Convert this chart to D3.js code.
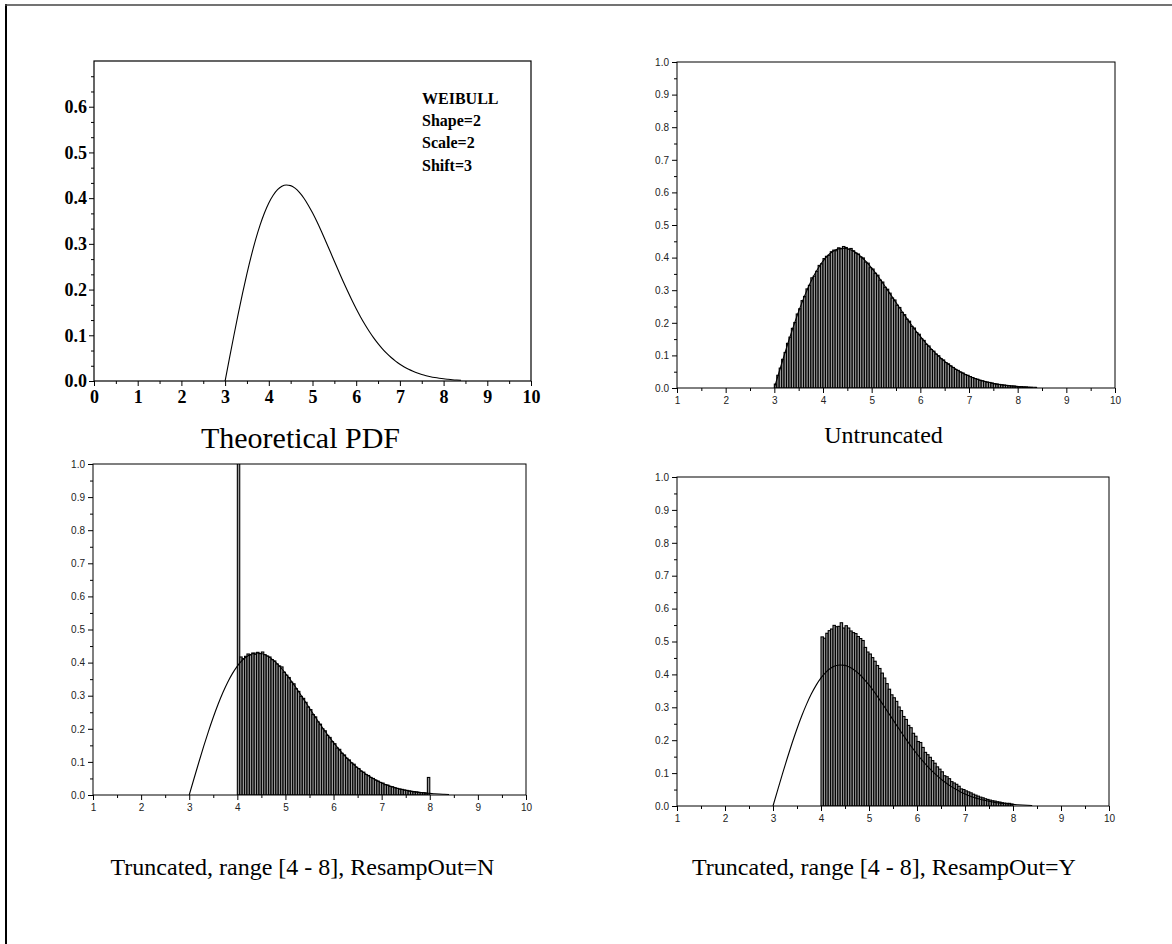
<!DOCTYPE html>
<html><head><meta charset="utf-8">
<script src="https://cdn.jsdelivr.net/npm/d3@7"></script>
<style>
body{margin:0;background:#fff;}
svg{display:block;}
</style></head>
<body>
<svg id="c" width="1172" height="944"></svg>
<script>
// ---------- data ----------
const binWidth = 0.05;
// theoretical Weibull pdf curve (shape=2, scale=2, shift=3), x = 3.0 .. 8.4 step 0.1
const curveX = [3.0,3.1,3.2,3.3,3.4,3.5,3.6,3.7,3.8,3.9,4.0,4.1,4.2,4.3,4.4,4.5,4.6,4.7,4.8,4.9,5.0,5.1,5.2,5.3,5.4,5.5,5.6,5.7,5.8,5.9,6.0,6.1,6.2,6.3,6.4,6.5,6.6,6.7,6.8,6.9,7.0,7.1,7.2,7.3,7.4,7.5,7.6,7.7,7.8,7.9,8.0,8.1,8.2,8.3,8.4];
const curveY = [0,.0499,.0990,.1467,.1922,.2349,.2742,.3097,.3409,.3675,.3894,.4064,.4186,.4260,.4288,.4274,.4218,.4126,.4004,.3852,.3679,.3487,.3280,.3063,.2843,.2620,.2399,.2181,.1972,.1771,.1581,.1402,.1237,.1084,.0944,.0818,.0705,.0604,.0514,.0435,.0366,.0307,.0255,.0212,.0174,.0142,.0116,.0094,.0076,.0061,.0048,.0038,.0029,.0022,.0017];

// Untruncated histogram: bins start at 3.00, width 0.05
const untruncStart = 3.0;
const untruncVals = [0.012,0.039,0.061,0.088,0.109,0.137,0.156,0.183,0.201,0.227,0.243,0.268,0.281,0.304,0.315,0.338,0.343,0.358,0.376,0.381,
0.397,0.404,0.407,0.418,0.423,0.421,0.430,0.427,0.434,0.431,0.426,0.428,0.421,0.414,0.411,0.402,0.399,0.386,0.383,0.369,
0.365,0.352,0.346,0.331,0.325,0.309,0.303,0.291,0.276,0.270,0.254,0.247,0.232,0.225,0.211,0.205,0.189,0.184,0.170,0.165,
0.151,0.146,0.134,0.129,0.118,0.113,0.104,0.099,0.090,0.086,0.078,0.074,0.068,0.063,0.057,0.054,0.049,0.046,0.041,0.039,
0.035,0.032,0.029,0.027,0.024,0.022,0.020,0.018,0.017,0.015,0.013,0.012,0.011,0.010,0.009,0.008,0.007,0.006,0.006,0.005,
0.004,0.004,0.003,0.003,0.002,0.002];

// Truncated [4-8], ResampOut=N: bins start at 4.00
const truncNStart = 4.0;
const truncNVals = [4.4,0.417,0.412,0.419,0.426,0.423,0.429,0.425,0.431,0.427,0.432,0.424,0.420,0.417,0.409,0.405,0.396,0.390,0.387,0.371,
0.362,0.355,0.341,0.336,0.321,0.313,0.298,0.292,0.280,0.266,0.258,0.243,0.236,0.221,0.214,0.200,0.194,0.180,0.174,0.161,
0.155,0.142,0.138,0.126,0.121,0.111,0.106,0.097,0.093,0.084,0.080,0.072,0.069,0.062,0.059,0.053,0.050,0.045,0.042,0.038,
0.036,0.031,0.030,0.026,0.025,0.022,0.020,0.018,0.017,0.015,0.014,0.012,0.011,0.010,0.009,0.008,0.007,0.007,0.006,0.053];

// Truncated [4-8], ResampOut=Y: bins start at 4.00
const truncYStart = 4.0;
const truncYVals = [0.514,0.510,0.525,0.533,0.538,0.549,0.545,0.546,0.557,0.541,0.548,0.541,0.532,0.527,0.524,0.515,0.509,0.503,0.482,0.468,
0.462,0.451,0.440,0.427,0.418,0.404,0.389,0.372,0.355,0.338,0.329,0.318,0.301,0.290,0.272,0.263,0.245,0.238,0.221,0.212,
0.196,0.193,0.178,0.163,0.156,0.148,0.138,0.130,0.119,0.112,0.104,0.092,0.089,0.083,0.074,0.070,0.066,0.060,0.052,0.050,
0.046,0.043,0.040,0.036,0.033,0.030,0.027,0.025,0.022,0.020,0.018,0.016,0.015,0.013,0.012,0.010,0.009,0.008,0.008,0.006];

const pdfXTicks = [0,1,2,3,4,5,6,7,8,9,10];
const pdfYTicks = [0,0.1,0.2,0.3,0.4,0.5,0.6];
const histXTicks = [1,2,3,4,5,6,7,8,9,10];
const histYTicks = [0,0.1,0.2,0.3,0.4,0.5,0.6,0.7,0.8,0.9,1.0];
const legendLines = ["WEIBULL","Shape=2","Scale=2","Shift=3"];
const titles = ["Theoretical PDF","Untruncated","Truncated, range [4 - 8], ResampOut=N","Truncated, range [4 - 8], ResampOut=Y"];

// ---------- drawing ----------
const svg = d3.select("#c");
const SERIF = "'Liberation Serif','Times New Roman',serif";
const SANS = "'Liberation Sans',Arial,Helvetica,sans-serif";

// page border (left and top)
svg.append("line").attr("x1",6).attr("x2",6).attr("y1",4).attr("y2",944).attr("stroke","#000").attr("stroke-width",2);
svg.append("line").attr("x1",5).attr("x2",1172).attr("y1",5).attr("y2",5).attr("stroke","#444").attr("stroke-width",1.5);

const fmt1 = d3.format(".1f");
const bins = (start, vals) => vals.map((v,i)=>({x0:+(start+i*binWidth).toFixed(3), x1:+(start+(i+1)*binWidth).toFixed(3), v}));
const curveData = curveX.map((x,i)=>({x, y:curveY[i]}));

function panel(id, box, xDom, yDom, opts){
  const x = d3.scaleLinear().domain(xDom).range([box.l, box.r]);
  const y = d3.scaleLinear().domain(yDom).range([box.b, box.t]);
  const g = svg.append("g");
  g.append("clipPath").attr("id","clip"+id).append("rect")
    .attr("x",box.l).attr("y",box.t).attr("width",box.r-box.l).attr("height",box.b-box.t);
  const plot = g.append("g").attr("clip-path",`url(#clip${id})`);

  if(opts.bars){
    plot.selectAll("rect.bar").data(opts.bars).join("rect").attr("class","bar")
      .attr("x",d=>x(d.x0)).attr("width",d=>x(d.x1)-x(d.x0))
      .attr("y",d=>y(d.v)).attr("height",d=>y(0)-y(d.v))
      .attr("fill","#9a9a9a").attr("stroke","#000").attr("stroke-width",1.1);
  }
  if(opts.curve){
    plot.append("path").datum(curveData)
      .attr("d", d3.line().x(d=>x(d.x)).y(d=>y(d.y)).curve(d3.curveMonotoneX))
      .attr("fill","none").attr("stroke","#000").attr("stroke-width",1.1);
  }
  // frame
  g.append("rect").attr("x",box.l).attr("y",box.t).attr("width",box.r-box.l).attr("height",box.b-box.t)
    .attr("fill","none").attr("stroke","#000").attr("stroke-width",opts.frameW||1);

  // axes
  const xa = d3.axisBottom(x).tickValues(opts.xTicks).tickSize(opts.majorLen).tickPadding(opts.xPad).tickFormat(opts.xFmt);
  const xm = d3.axisBottom(x).tickValues(opts.xMinor).tickSize(opts.minorLen).tickFormat("");
  const ya = d3.axisLeft(y).tickValues(opts.yTicks).tickSize(opts.majorLen).tickPadding(opts.yPad).tickFormat(opts.yFmt);
  const ym = d3.axisLeft(y).tickValues(opts.yMinor).tickSize(opts.minorLen).tickFormat("");
  [[xm,"x"],[xa,"x"],[ym,"y"],[ya,"y"]].forEach(([ax,k])=>{
    const a = g.append("g").attr("transform", k==="x" ? `translate(0,${box.b})` : `translate(${box.l},0)`).call(ax);
    a.select(".domain").remove();
    a.selectAll("line").attr("stroke","#000");
    a.selectAll("text").attr("font-family",opts.font).attr("font-size",opts.fontSize)
      .attr("font-weight",opts.bold?"bold":"normal").attr("fill",opts.textColor||"#000");
  });
  return {x,y,g};
}

// Panel A: theoretical PDF
const A = {l:94,r:531,t:61,b:381};
const pA = panel("A", A, [0,10], [0,0.7], {
  curve:true, frameW:1.2,
  xTicks:pdfXTicks, xMinor:d3.range(0.5,10,1), yTicks:pdfYTicks,
  yMinor:d3.range(0,0.7001,0.1/3).filter(v=>Math.abs(v*10-Math.round(v*10))>1e-6),
  majorLen:5, minorLen:3, xPad:4, yPad:2, xFmt:d=>String(d), yFmt:fmt1,
  font:SERIF, fontSize:18, bold:true
});
const leg = svg.append("g").attr("font-family",SERIF).attr("font-size",16).attr("font-weight","bold");
legendLines.forEach((s,i)=>leg.append("text").attr("x",422).attr("y",104+i*22.2).text(s));

const histOpts = (bars)=>({
  bars, curve:true, frameW:1,
  xTicks:histXTicks, xMinor:d3.range(1.5,10,1), yTicks:histYTicks, yMinor:d3.range(0.05,1,0.1),
  majorLen:5, minorLen:3, xPad:4, yPad:3, xFmt:d=>String(d), yFmt:fmt1,
  font:SANS, fontSize:10, bold:false, textColor:"#222"
});

// Panel B: untruncated
panel("B", {l:677,r:1115,t:62,b:388}, [1,10], [0,1], histOpts(bins(untruncStart, untruncVals)));
// Panel C: truncated N
panel("C", {l:93,r:526,t:464,b:795}, [1,10], [0,1], histOpts(bins(truncNStart, truncNVals)));
// Panel D: truncated Y
panel("D", {l:677,r:1109,t:477,b:806}, [1,10], [0,1], histOpts(bins(truncYStart, truncYVals)));

// titles
const T = svg.append("g").attr("font-family",SERIF).attr("fill","#000").attr("text-anchor","middle");
T.append("text").attr("x",300.5).attr("y",448).attr("font-size",30).text(titles[0]);
T.append("text").attr("x",883.5).attr("y",443).attr("font-size",24).text(titles[1]);
T.append("text").attr("x",302.5).attr("y",875).attr("font-size",24).text(titles[2]);
T.append("text").attr("x",884).attr("y",875).attr("font-size",24).text(titles[3]);
</script>
</body></html>
